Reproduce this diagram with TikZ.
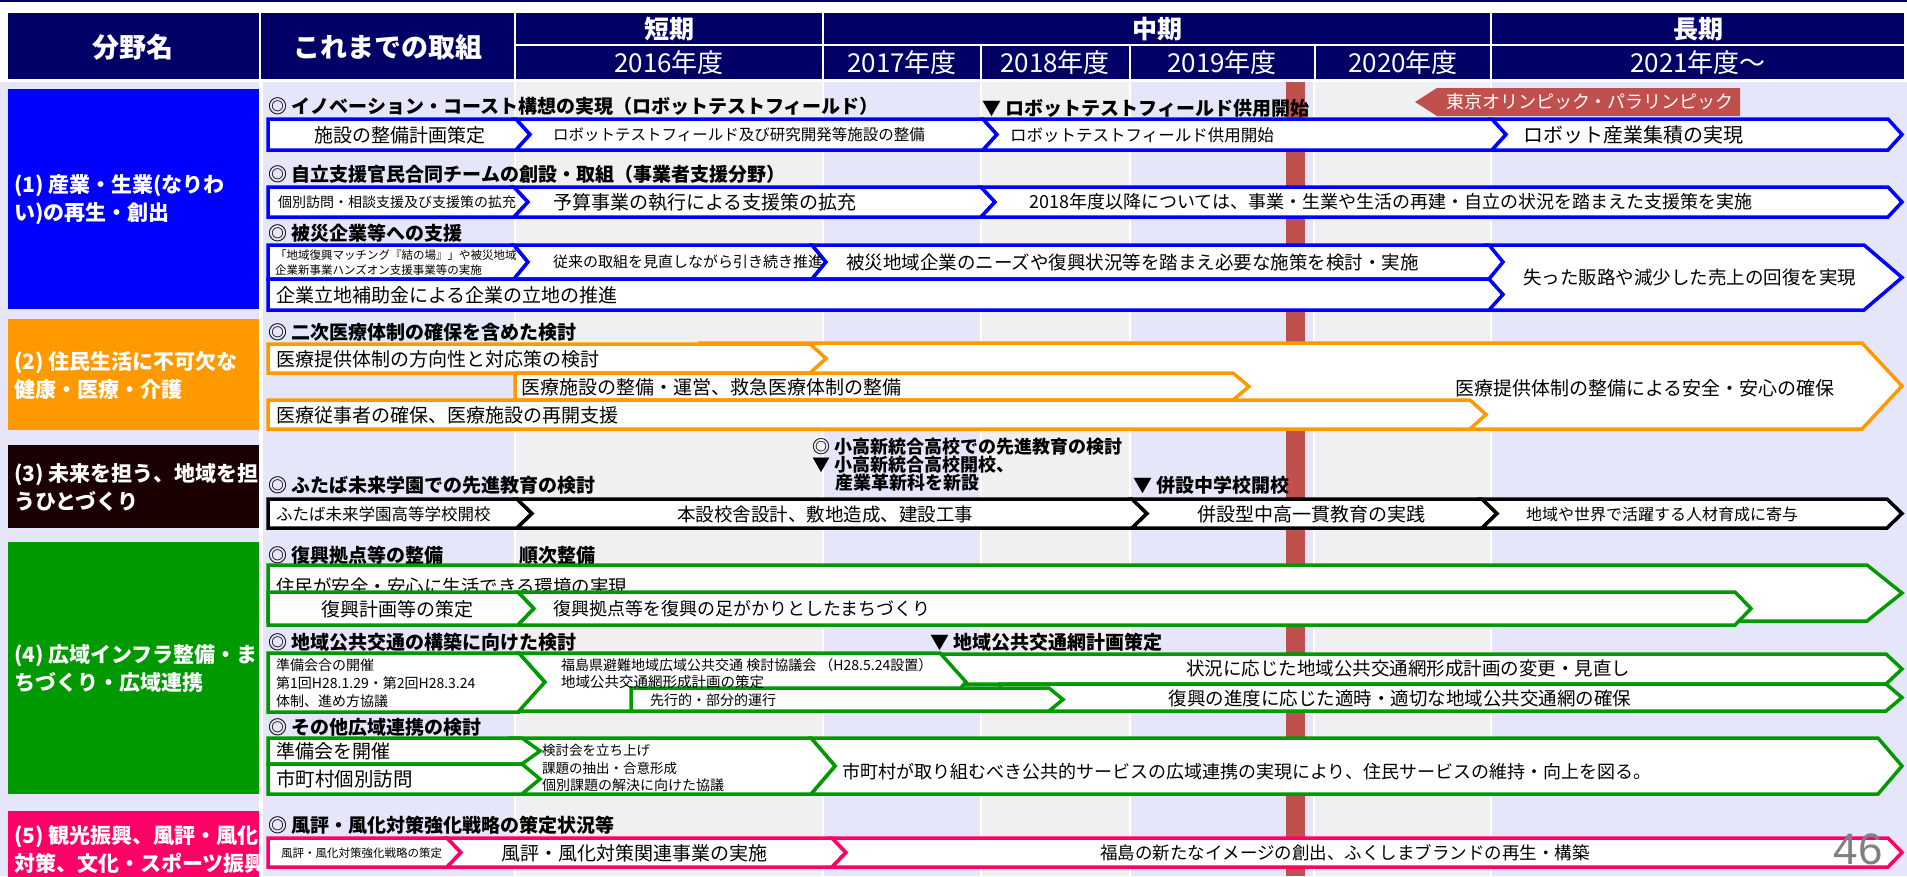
\documentclass[tikz,border=0pt]{standalone}
\usepackage{fontspec}
\setmainfont{Noto Sans CJK JP}
\newfontfamily\numfont{Liberation Sans}
\usetikzlibrary{arrows}
\definecolor{hdrblue}{RGB}{0,0,102}
\definecolor{lav}{RGB}{230,230,250}
\definecolor{lgray}{RGB}{240,240,240}
\definecolor{bblue}{RGB}{0,0,255}
\definecolor{borange}{RGB}{255,153,0}
\definecolor{bdark}{RGB}{26,0,0}
\definecolor{bgreen}{RGB}{0,153,0}
\definecolor{bpink}{RGB}{255,0,102}
\definecolor{olred}{RGB}{192,80,77}
\newcommand{\fsz}[1]{\fontsize{#1}{#1}\selectfont}
% 左端が平らな矢羽
\newcommand{\pent}[6]{\draw[bar,draw=#6] (#1,#3) -- ({#2-#5},#3) -- (#2,{(#3+#4)/2}) -- ({#2-#5},#4) -- (#1,#4) -- cycle;}
% 左端に切り込みのある矢羽
\newcommand{\chev}[6]{\draw[bar,draw=#6] ({#1-#5},#3) -- ({#2-#5},#3) -- (#2,{(#3+#4)/2}) -- ({#2-#5},#4) -- ({#1-#5},#4) -- (#1,{(#3+#4)/2}) -- cycle;}
\tikzset{
  bar/.style={fill=white,line width=3.5pt,line join=miter},
  txt/.style={inner sep=0pt,anchor=west},
  txtc/.style={inner sep=0pt},
  ttl/.style={inner sep=0pt,anchor=west,font=\bfseries\fsz{19}},
  hdr/.style={inner sep=0pt,text=white},
  fld/.style={inner sep=0pt,anchor=west,align=left,text=white,font=\bfseries\fontsize{21}{28}\selectfont}
}
\begin{document}
\begin{tikzpicture}[x=1pt,y=-1pt] % 1単位 = 1px
\useasboundingbox (0,0) rectangle (1907,876);
\fill[white] (0,0) rectangle (1907,876);
\fill[hdrblue] (0,0) rectangle (1907,2);
% 列の背景
\fill[lav] (0,82) rectangle (259,876);\fill[lav] (263,82) rectangle (514,876);
\fill[lgray] (516,82) rectangle (822,876);\fill[lav] (824,82) rectangle (980,876);
\fill[lgray] (982,82) rectangle (1129,876);\fill[lav] (1131,82) rectangle (1313,876);
\fill[lgray] (1315,82) rectangle (1490,876);\fill[lav] (1492,82) rectangle (1907,876);
\fill[olred] (1286,82) rectangle (1305,876);
% 見出し
\draw[white,line width=2.5pt,fill=hdrblue] (7,12) rectangle (260,80);\draw[white,line width=2.5pt,fill=hdrblue] (260,12) rectangle (515,80);
\draw[white,line width=2.5pt,fill=hdrblue] (515,12) rectangle (823,45);\draw[white,line width=2.5pt,fill=hdrblue] (515,45) rectangle (823,80);
\draw[white,line width=2.5pt,fill=hdrblue] (823,12) rectangle (1491,45);\draw[white,line width=2.5pt,fill=hdrblue] (823,45) rectangle (981,80);
\draw[white,line width=2.5pt,fill=hdrblue] (981,45) rectangle (1130,80);\draw[white,line width=2.5pt,fill=hdrblue] (1130,45) rectangle (1315,80);
\draw[white,line width=2.5pt,fill=hdrblue] (1315,45) rectangle (1491,80);\draw[white,line width=2.5pt,fill=hdrblue] (1491,12) rectangle (1905,45);
\draw[white,line width=2.5pt,fill=hdrblue] (1491,45) rectangle (1905,80);
\node[hdr,font=\bfseries\fsz{27}](H1) at (133,47) {分野名};\node[hdr,font=\bfseries\fsz{27}](H2) at (388,47) {これまでの取組};
\node[hdr,font=\bfseries\fsz{25}](H3) at (669,29) {短期};\node[hdr,font=\fsz{26}](Y16) at (669,63) {2016年度};
\node[hdr,font=\bfseries\fsz{25}](H4) at (1157,29) {中期};\node[hdr,font=\fsz{26}](Y17) at (902,63) {2017年度};
\node[hdr,font=\fsz{26}](Y18) at (1055,63) {2018年度};\node[hdr,font=\fsz{26}](Y19) at (1222,63) {2019年度};
\node[hdr,font=\fsz{26}](Y20) at (1403,63) {2020年度};\node[hdr,font=\bfseries\fsz{25}](H5) at (1698,29) {長期};
\node[hdr,font=\fsz{26}](Y21) at (1698,63) {2021年度〜};
% 分野
\fill[bblue] (8,89) rectangle (259,309);\fill[borange] (8,319) rectangle (259,430);
\fill[bdark] (8,445) rectangle (259,528);\fill[bgreen] (8,542) rectangle (259,794);
\fill[bpink] (8,811) rectangle (259,890);
\node[fld](F1) at (14,200) {(1) 産業・生業(なりわ\\い)の再生・創出};
\node[fld](F2) at (14,375) {(2) 住民生活に不可欠な\\健康・医療・介護};
\node[fld](F3) at (14,487) {(3) 未来を担う、地域を担\\うひとづくり};
\node[fld](F4) at (14,669) {(4) 広域インフラ整備・ま\\ちづくり・広域連携};
\node[fld,anchor=north west](F5) at (14,825) {(5) 観光振興、風評・風化\\対策、文化・スポーツ振興};
% (1)
\pent{268}{530}{119}{150}{14}{bblue}\chev{530}{997}{119}{150}{14}{bblue}\chev{997}{1506}{119}{150}{14}{bblue}\chev{1506}{1902}{119}{150}{14}{bblue}
\pent{268}{528}{187}{217}{14}{bblue}\chev{528}{995}{187}{217}{14}{bblue}\chev{995}{1902}{187}{217}{14}{bblue}
\pent{1485}{1902}{245}{310}{38}{bblue}
\pent{268}{528}{245}{279}{14}{bblue}\chev{528}{826}{245}{279}{14}{bblue}\chev{826}{1503}{245}{279}{14}{bblue}
\pent{268}{1503}{279}{310}{14}{bblue}
\node[ttl](T11) at (268,106) {◎ イノベーション・コースト構想の実現（ロボットテストフィールド）};
\node[ttl](M11) at (982,108) {▼ ロボットテストフィールド供用開始};
\node[txtc,font=\fsz{19}](A11) at (400,135) {施設の整備計画策定};\node[txt,font=\fsz{15.5}](A12) at (553,135) {ロボットテストフィールド及び研究開発等施設の整備};
\node[txt,font=\fsz{16.5}](A13) at (1010,135) {ロボットテストフィールド供用開始};\node[txt,font=\fsz{20}](A14) at (1523,135) {ロボット産業集積の実現};
\node[ttl](T12) at (268,174) {◎ 自立支援官民合同チームの創設・取組（事業者支援分野）};
\node[txt,font=\fsz{14}](B11) at (278,202) {個別訪問・相談支援及び支援策の拡充};\node[txt,font=\fsz{19}](B12) at (553,202) {予算事業の執行による支援策の拡充};
\node[txt,font=\fsz{18}](B13) at (1029,202) {2018年度以降については、事業・生業や生活の再建・自立の状況を踏まえた支援策を実施};
\node[ttl](T13) at (268,233) {◎ 被災企業等への支援};
\node[txt,align=left,font=\fontsize{11.5}{15}\selectfont](C11) at (275,263) {「地域復興マッチング『結の場』」や被災地域\\企業新事業ハンズオン支援事業等の実施};
\node[txt,font=\fsz{15}](C12) at (553,262) {従来の取組を見直しながら引き続き推進};\node[txt,font=\fsz{18.5}](C13) at (846,262) {被災地域企業のニーズや復興状況等を踏まえ必要な施策を検討・実施};
\node[txt,font=\fsz{18.5}](C14) at (1523,278) {失った販路や減少した売上の回復を実現};
\node[txt,font=\fsz{19}](D11) at (276,295) {企業立地補助金による企業の立地の推進};
% (2)
\pent{700}{1902}{343}{429}{40}{borange}\pent{268}{826}{344}{373}{16}{borange}
\pent{515}{1249}{373}{400}{16}{borange}\pent{268}{1486}{400}{429}{16}{borange}
\node[ttl](T21) at (268,332) {◎ 二次医療体制の確保を含めた検討};
\node[txt,font=\fsz{19}](A21) at (276,359) {医療提供体制の方向性と対応策の検討};\node[txt,font=\fsz{19}](A22) at (521,387) {医療施設の整備・運営、救急医療体制の整備};
\node[txt,font=\fsz{19}](A23) at (276,415) {医療従事者の確保、医療施設の再開支援};\node[txtc,font=\fsz{19}](A24) at (1645,388) {医療提供体制の整備による安全・安心の確保};
% (3)
\pent{268}{532}{499}{528}{15}{black}\chev{532}{1147}{499}{528}{15}{black}\chev{1147}{1497}{499}{528}{15}{black}\chev{1497}{1902}{499}{528}{15}{black}
\node[ttl,font=\bfseries\fsz{18}](T31) at (812,447) {◎ 小高新統合高校での先進教育の検討};
\node[ttl,font=\bfseries\fsz{18}](M31) at (812,465) {▼ 小高新統合高校開校、};\node[ttl,font=\bfseries\fsz{18}](M32) at (835,483) {産業革新科を新設};
\node[ttl](T32) at (268,485) {◎ ふたば未来学園での先進教育の検討};\node[ttl](M33) at (1133,485) {▼ 併設中学校開校};
\node[txt,font=\fsz{16.5}](A31) at (276,514) {ふたば未来学園高等学校開校};\node[txtc,font=\fsz{18.5}](A32) at (825,514) {本設校舎設計、敷地造成、建設工事};
\node[txtc,font=\fsz{19}](A33) at (1311,514) {併設型中高一貫教育の実践};\node[txtc,font=\fsz{16}](A34) at (1662,514) {地域や世界で活躍する人材育成に寄与};
% (4)
\pent{268}{1902}{565}{621}{35}{bgreen}
\node[txt,font=\fsz{18.5}](A41) at (276,586) {住民が安全・安心に生活できる環境の実現};
\pent{268}{534}{592}{625}{16}{bgreen}\chev{534}{1751}{592}{625}{16}{bgreen}
\node[ttl](T41) at (268,555) {◎ 復興拠点等の整備};\node[ttl](M41) at (519,555) {順次整備};
\node[txtc,font=\fsz{19}](A42) at (397,609) {復興計画等の策定};\node[txt,font=\fsz{18}](A43) at (553,609) {復興拠点等を復興の足がかりとしたまちづくり};
\pent{900}{1902}{654}{684}{16}{bgreen}\pent{1000}{1902}{684}{711}{16}{bgreen}
\pent{268}{545}{653}{712}{26}{bgreen}\chev{545}{966}{653}{711}{26}{bgreen}\pent{631}{1063}{688}{711}{14}{bgreen}
\node[ttl](T42) at (268,642) {◎ 地域公共交通の構築に向けた検討};\node[ttl](M42) at (930,642) {▼ 地域公共交通網計画策定};
\node[txt,font=\fsz{14}](B41) at (276,665) {準備会合の開催};\node[txt,font=\fsz{14}](B42) at (276,683) {第1回H28.1.29・第2回H28.3.24};
\node[txt,font=\fsz{14}](B43) at (276,701) {体制、進め方協議};
\node[txt,font=\fsz{14}](B44) at (561,665) {福島県避難地域広域公共交通 検討協議会 （H28.5.24設置）};\node[txt,font=\fsz{14.5}](B45) at (561,682) {地域公共交通網形成計画の策定};
\node[txt,font=\fsz{14}](B46) at (650,700) {先行的・部分的運行};
\node[txtc,font=\fsz{18.5}](B47) at (1408,668) {状況に応じた地域公共交通網形成計画の変更・見直し};\node[txtc,font=\fsz{18.5}](B48) at (1400,698) {復興の進度に応じた適時・適切な地域公共交通網の確保};
\chev{835}{1902}{738}{794}{24}{bgreen}\pent{510}{835}{738}{794}{24}{bgreen}
\pent{268}{540}{738}{764}{18}{bgreen}\pent{268}{540}{764}{794}{18}{bgreen}
\node[ttl](T43) at (268,727) {◎ その他広域連携の検討};
\node[txt,font=\fsz{19}](C41) at (276,751) {準備会を開催};\node[txt,font=\fsz{19.5}](C42) at (276,779) {市町村個別訪問};
\node[txt,font=\fsz{13.5}](C43) at (542,750) {検討会を立ち上げ};\node[txt,font=\fsz{13.5}](C44) at (542,768) {課題の抽出・合意形成};
\node[txt,font=\fsz{14}](C45) at (542,785) {個別課題の解決に向けた協議};
\node[txt,font=\fsz{18}](C46) at (842,772) {市町村が取り組むべき公共的サービスの広域連携の実現により、住民サービスの維持・向上を図る。};
% (5)
\pent{268}{461}{838}{867}{14}{bpink}\chev{461}{846}{838}{867}{14}{bpink}\chev{846}{1902}{838}{867}{14}{bpink}
\node[ttl](T51) at (268,825) {◎ 風評・風化対策強化戦略の策定状況等};
\node[txt,font=\fsz{11.5}](A51) at (281,853) {風評・風化対策強化戦略の策定};\node[txt,font=\fsz{19}](A52) at (501,853) {風評・風化対策関連事業の実施};
\node[txtc,font=\fsz{17.5}](A53) at (1345,853) {福島の新たなイメージの創出、ふくしまブランドの再生・構築};
% 東京五輪
\fill[olred] (1415,102) -- (1437,88) -- (1740,88) -- (1740,116) -- (1437,116) -- cycle;
\node[hdr,font=\fsz{18}](OL) at (1590,102) {東京オリンピック・パラリンピック};
\node[inner sep=0pt,text=gray,font=\numfont\fsz{44}](PG) at (1858,849) {46};
\end{tikzpicture}
\end{document}
